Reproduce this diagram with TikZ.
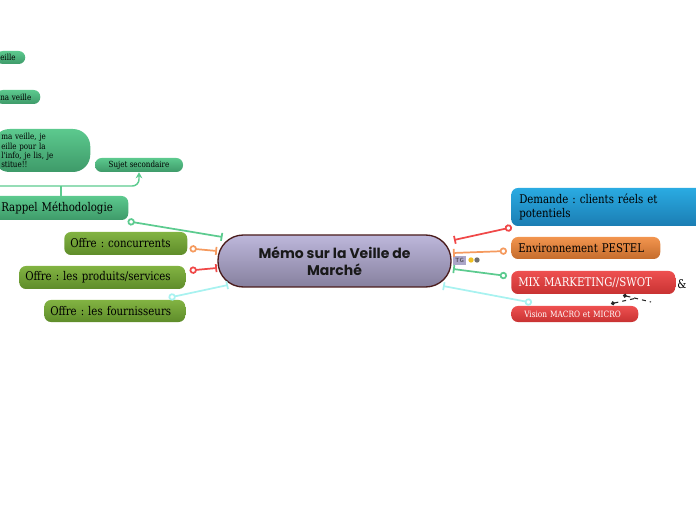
\documentclass[tikz,border=0pt]{standalone}
\usepackage{fontspec}
\usetikzlibrary{arrows.meta,calc}
\newfontfamily\slab[FakeStretch=0.85]{DejaVu Serif}
\newfontfamily\pop{Poppins}
\frenchspacing
\definecolor{gtop}{HTML}{5CC98E}
\definecolor{gbot}{HTML}{3E9A69}
\definecolor{otop}{HTML}{82B342}
\definecolor{obot}{HTML}{5E8C2A}
\definecolor{btop}{HTML}{2AABE2}
\definecolor{bbot}{HTML}{1B7DB3}
\definecolor{ortop}{HTML}{F2954F}
\definecolor{orbot}{HTML}{C56C2C}
\definecolor{rtop}{HTML}{EE5050}
\definecolor{rbot}{HTML}{C83232}
\definecolor{ctop}{HTML}{BDB7DB}
\definecolor{cbot}{HTML}{86809E}
\definecolor{cbord}{HTML}{4A1C1C}
\definecolor{lgreen}{HTML}{5CCB8F}
\definecolor{lorange}{HTML}{F59A5E}
\definecolor{lred}{HTML}{F04848}
\definecolor{lcyan}{HTML}{A8F2F0}
\definecolor{tgc}{HTML}{ABA6C8}
\definecolor{dotY}{HTML}{F0C020}
\definecolor{dotG}{HTML}{707070}
\begin{document}
\begin{tikzpicture}[x=0.75pt,y=-0.75pt,
  br/.style={anchor=west, rounded corners=5pt, align=left, inner ysep=1pt,
    font=\slab\fontsize{9}{10}\selectfont, text=black},
  sm/.style={font=\slab\fontsize{6.3}{6.9}\selectfont},
  greenb/.style={top color=gtop, bottom color=gbot},
  oliveb/.style={top color=otop, bottom color=obot},
  blueb/.style={top color=btop, bottom color=bbot},
  orangeb/.style={top color=ortop, bottom color=orbot},
  redb/.style={top color=rtop, bottom color=rbot},
  conn/.style={line width=1.3pt, {Circle[fill=white,length=5.5pt]}-{Bar[width=6pt]}},
]
\useasboundingbox (0,0) rectangle (696,520);
\clip (0,0) rectangle (696,520);

% central
\node[rounded corners=19pt, draw=cbord, line width=1pt, top color=ctop, bottom color=cbot,
  minimum width=174.75pt, minimum height=39pt, align=center,
  font=\pop\bfseries\fontsize{10.5}{12.5}\selectfont, text=black!90] (c) at (334.5,261)
  {Mémo sur la Veille de\\Marché};

% left branches
\node[br, greenb, text width=89.25pt, inner xsep=6pt, minimum height=18pt] (rap) at (-7,208) {\mbox{Rappel Méthodologie}};
\node[br, oliveb, text width=83.25pt, inner xsep=4.5pt, minimum height=17.25pt] (conc) at (64,243.5) {\mbox{Offre : concurrents}};
\node[br, oliveb, text width=115.5pt, inner xsep=4.5pt, minimum height=17.25pt] (prod) at (19,277.5) {\mbox{Offre : les produits/services}};
\node[br, oliveb, text width=96.75pt, inner xsep=4.5pt, minimum height=16.5pt] (four) at (44,311) {\mbox{Offre : les fournisseurs}};

% top-left sub topics
\node[br, greenb, sm, text width=15.75pt, inner xsep=3pt, minimum height=9.75pt] (t1) at (-4,57.5) {\mbox{eille}};
\node[br, greenb, sm, text width=27pt, inner xsep=3pt, minimum height=10.5pt] (t2) at (-4,97) {\mbox{na veille}};
\node[br, greenb, sm, rounded corners=13pt, text width=60pt, inner xsep=6.75pt, minimum height=32.25pt] (t3) at (-8,150.5)
  {ma veille, je\\eille pour la\\l'info, je lis, je\\stitue!!};
\node[greenb, sm, rounded corners=5pt, minimum width=66pt, minimum height=10.5pt, inner sep=1pt] (suj) at (139,165) {Sujet secondaire};

% right branches
\node[br, blueb, text width=133.5pt, inner xsep=6pt, minimum height=28.5pt] (dem) at (511,207) {Demande : clients réels et\\potentiels};
\node[br, orangeb, text width=101.25pt, inner xsep=5.25pt, minimum height=16.5pt] (pes) at (511,248) {\mbox{Environnement PESTEL}};
\node[br, redb, text=white, text width=112.5pt, inner xsep=5.25pt, minimum height=17.25pt] (mix) at (511,282.5) {\mbox{MIX MARKETING//SWOT}};
\node[br, redb, sm, text=white, text width=75.75pt, inner xsep=9.75pt, minimum height=12pt, rounded corners=5pt,
  font=\slab\fontsize{6.5}{7}\selectfont] (vis) at (511,314) {\mbox{Vision MACRO et MICRO}};
\node[font=\slab\fontsize{9}{10}\selectfont, inner sep=0pt] (amp) at (682,284) {\&};

% TG tag and dots
\node[fill=tgc, inner sep=0pt, minimum width=9.75pt, minimum height=6.75pt,
  font=\sffamily\fontsize{4.5}{5}\selectfont, text=black!80] (tg) at (459.5,260.5) {TG};
\node[circle, fill=dotY, inner sep=0pt, minimum size=4pt] (dy) at (471,260) {};
\node[circle, fill=dotG, inner sep=0pt, minimum size=4pt] (dg) at (477,260) {};

% left connectors
\draw[conn, lgreen] ($(rap.south east)+(-1,1)$) -- ($(c.center)+(-112,-24)$);
\draw[conn, lorange] ($(conc.east)+(2,5)$) -- ($(c.center)+(-117.5,-10)$);
\draw[conn, lred] ($(prod.east)+(4,-7)$) -- ($(c.center)+(-117.5,7)$);
\draw[conn, lcyan] ($(four.north east)+(-17,-2)$) -- ($(c.center)+(-106.5,24)$);

% right connectors
\draw[conn, lred] ($(dem.south west)+(1,1)$) -- ($(c.center)+(119.5,-21)$);
\draw[conn, lorange] ($(pes.west)+(-4,3)$) -- ($(c.center)+(118.5,-8)$);
\draw[conn, lgreen] ($(mix.west)+(-4,-6.5)$) -- ($(c.center)+(118.5,8)$);
\draw[conn, lcyan] ($(vis.north west)+(21,-3)$) -- ($(c.center)+(108.5,25)$);

% top-left bracket
\coordinate (gl) at (-5,186);
\draw[lgreen, line width=1.1pt, rounded corners=5pt, -{Stealth[open, fill=white, length=4.5pt, width=5pt]}]
  (gl) -- (suj.south |- gl) -- (suj.south);
\draw[lgreen, line width=1.1pt] (rap.north) -- (rap.north |- gl);

% dashed relation
\coordinate (dA) at (651,302);
\coordinate (dB) at (637,298);
\draw[black!85, line width=0.8pt, dashed, {Circle[length=3pt]}-] ($(mix.south west)+(112,1)$) -- (dA);
\draw[black!85, line width=0.8pt, dashed, {Circle[length=3pt]}-] ($(vis.north west)+(100,-2)$) -- (dB);
\end{tikzpicture}
\end{document}
